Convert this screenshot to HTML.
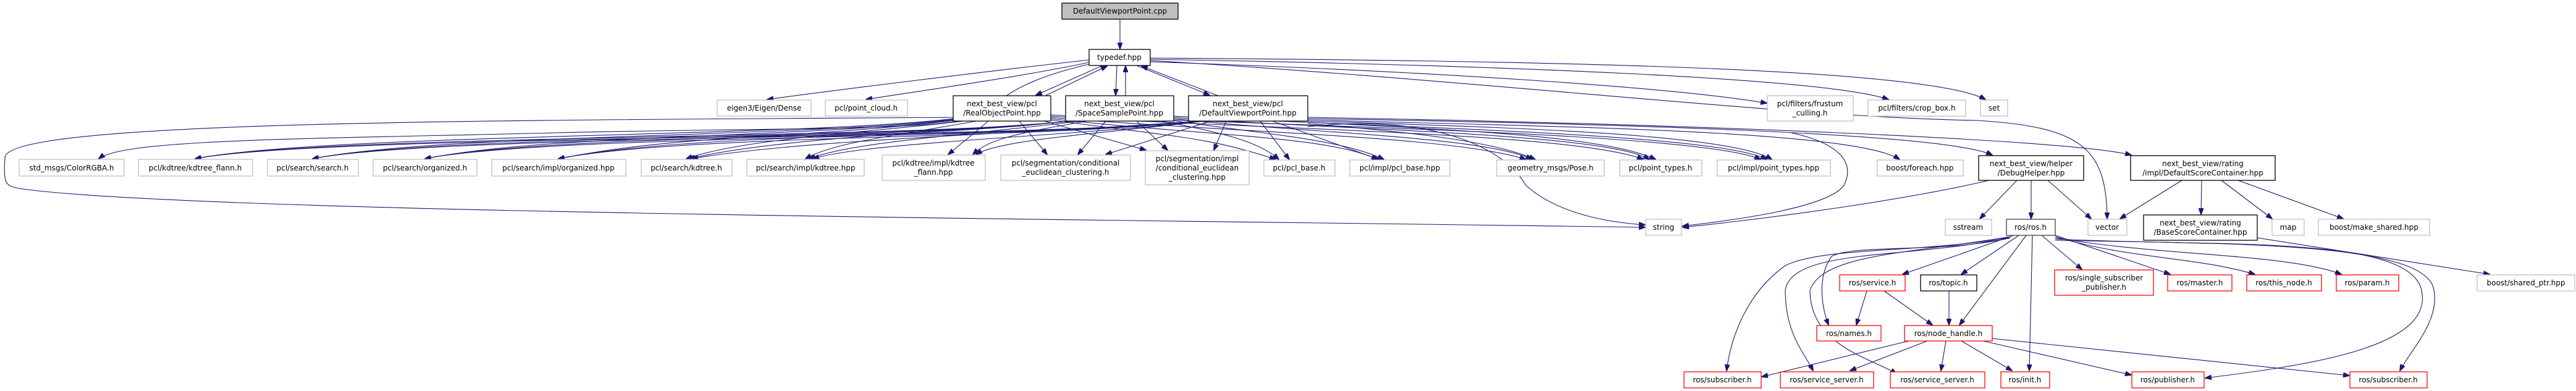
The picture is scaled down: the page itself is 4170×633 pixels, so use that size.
<!DOCTYPE html>
<html><head><meta charset="utf-8"><style>
html,body{margin:0;padding:0;background:#fff;}
svg{display:block;}
text{font-family:"DejaVu Sans","Liberation Sans",sans-serif;font-size:12px;fill:#000;text-anchor:middle;}
.g{fill:#fff;stroke:#bfbfbf;stroke-width:1.3;}
.b{fill:#fff;stroke:#000;stroke-width:1.3;}
.r{fill:#fff;stroke:#ff0000;stroke-width:1.3;}
path.e{fill:none;stroke:#191970;stroke-width:1.1;}
</style></head><body>
<svg width="4170" height="633" viewBox="0 0 4170 633" xmlns="http://www.w3.org/2000/svg">
<defs><marker id="a" markerWidth="11" markerHeight="8" refX="10" refY="4" orient="auto" markerUnits="userSpaceOnUse"><path d="M0,0 L11,4 L0,8 z" fill="#191970" stroke="#191970"/></marker></defs>
<g marker-end="url(#a)">
<path class="e" d="M1813,31 L1813,79"/>
<path class="e" d="M1763,97 C1600,115 1320,150 1242,161"/>
<path class="e" d="M1763,101 C1650,125 1470,150 1402,161"/>
<path class="e" d="M1785,106 L1677,154"/>
<path class="e" d="M1692,155 L1792,107"/>
<path class="e" d="M1808,106 L1806,154"/>
<path class="e" d="M1822,155 L1822,107"/>
<path class="e" d="M1840,106 L1958,154"/>
<path class="e" d="M1972,155 L1848,107"/>
<path class="e" d="M1862,100 C2300,115 2700,140 2860,167"/>
<path class="e" d="M1862,96 C2400,105 2950,125 3057,161"/>
<path class="e" d="M1862,94 C2500,98 3120,110 3214,161"/>
<path class="e" d="M1862,98 C2400,130 2900,190 3200,195 C3370,205 3410,240 3411,354"/>
<path class="e" d="M1763,104 C1650,130 1620,160 1600,180 C1560,215 1300,205 900,215 C500,225 200,225 160,257"/>
<path class="e" d="M1545,190 C800,195 10,195 8,255 C5,300 10,300 30,305 C300,345 1800,355 2663,368"/>
<path class="e" d="M2117,205 C2300,185 2430,230 2470,300 C2520,345 2600,360 2663,364"/>
<path class="e" d="M3220,292 C3100,320 2900,350 2724,368"/>
<path class="e" d="M2900,215 C2990,235 3000,270 2985,300 C2960,335 2820,355 2724,366"/>
<!-- Real -->
<path class="e" d="M1545,192 C1295,222 516,217 316,257"/>
<path class="e" d="M1545,193 C1295,223 706,217 506,257"/>
<path class="e" d="M1545,194 C1295,224 888,217 688,257"/>
<path class="e" d="M1545,195 C1295,225 1104,217 904,257"/>
<path class="e" d="M1560,196 C1400,215 1200,225 1111,257"/>
<path class="e" d="M1580,196 C1450,220 1350,230 1304,257"/>
<path class="e" d="M1600,196 L1535,250"/>
<path class="e" d="M1650,196 L1695,250"/>
<path class="e" d="M1690,196 L1855,243"/>
<path class="e" d="M1700,194 C1900,222 1950,220 2065,258"/>
<path class="e" d="M1700,192 C1950,220 2150,220 2230,258"/>
<path class="e" d="M1700,190 C2000,215 2350,220 2470,258"/>
<path class="e" d="M1700,188 C2050,210 2550,215 2660,258"/>
<path class="e" d="M1700,186 C2100,205 2750,215 2850,258"/>
<!-- Space -->
<path class="e" d="M1730,196 C1480,226 516,217 316,257"/>
<path class="e" d="M1730,196 C1480,226 706,217 506,257"/>
<path class="e" d="M1730,196 C1480,226 888,217 688,257"/>
<path class="e" d="M1730,196 C1480,226 1104,217 904,257"/>
<path class="e" d="M1740,196 C1500,215 1250,225 1115,257"/>
<path class="e" d="M1750,196 C1550,220 1380,230 1310,257"/>
<path class="e" d="M1760,196 C1650,215 1600,225 1575,250"/>
<path class="e" d="M1790,196 L1745,250"/>
<path class="e" d="M1840,196 L1890,243"/>
<path class="e" d="M1880,196 C1980,215 2040,230 2070,258"/>
<path class="e" d="M1890,194 C2050,218 2170,225 2240,258"/>
<path class="e" d="M1900,192 C2100,215 2400,220 2480,258"/>
<path class="e" d="M1900,190 C2150,210 2600,215 2670,258"/>
<path class="e" d="M1900,188 C2200,205 2780,215 2860,258"/>
<!-- DefVP -->
<path class="e" d="M1935,196 C1685,226 516,217 316,257"/>
<path class="e" d="M1935,196 C1685,226 706,217 506,257"/>
<path class="e" d="M1935,196 C1685,226 888,217 688,257"/>
<path class="e" d="M1935,196 C1685,226 1104,217 904,257"/>
<path class="e" d="M1940,196 C1700,215 1300,225 1120,257"/>
<path class="e" d="M1945,196 C1750,220 1400,230 1316,257"/>
<path class="e" d="M1950,196 C1800,215 1620,225 1580,250"/>
<path class="e" d="M1960,196 L1790,250"/>
<path class="e" d="M1985,196 L1965,243"/>
<path class="e" d="M2040,196 L2087,258"/>
<path class="e" d="M2060,196 L2232,258"/>
<path class="e" d="M2117,200 C2300,215 2420,230 2485,258"/>
<path class="e" d="M2117,198 C2350,210 2600,220 2680,258"/>
<path class="e" d="M2117,196 C2400,205 2800,215 2868,258"/>
<path class="e" d="M2117,194 C2500,205 3000,210 3075,258"/>
<path class="e" d="M2117,192 C2600,200 3150,215 3225,251"/>
<path class="e" d="M2117,190 C2700,200 3350,225 3450,251"/>
<!-- DebugHelper / DSC -->
<path class="e" d="M3265,292 L3205,354"/>
<path class="e" d="M3288,292 L3288,354"/>
<path class="e" d="M3315,292 L3385,354"/>
<path class="e" d="M3532,292 L3432,354"/>
<path class="e" d="M3564,292 L3563,347"/>
<path class="e" d="M3596,292 L3678,354"/>
<path class="e" d="M3623,292 L3793,354"/>
<path class="e" d="M3654,385 L4030,444"/>
<!-- ros.h -->
<path class="e" d="M3260,381 L3080,444"/>
<path class="e" d="M3268,381 L3175,444"/>
<path class="e" d="M3305,381 L3370,436"/>
<path class="e" d="M3327,381 L3513,444"/>
<path class="e" d="M3327,383 C3450,420 3550,415 3650,444"/>
<path class="e" d="M3327,385 C3500,415 3700,410 3790,444"/>
<path class="e" d="M3280,381 L3172,526"/>
<path class="e" d="M3290,381 L3285,600"/>
<path class="e" d="M3255,385 C3150,410 3000,395 2965,415 C2940,450 2950,500 2960,526"/>
<path class="e" d="M3252,385 C3100,410 2950,400 2890,430 C2820,480 2800,560 2795,600"/>
<path class="e" d="M3252,384 C3100,420 2900,400 2890,470 C2890,540 2920,570 2935,600"/>
<path class="e" d="M3254,383 C3100,410 2950,410 2930,470 C2930,560 3030,580 3070,605"/>
<path class="e" d="M3327,387 C3600,400 3900,380 3920,470 C3940,560 3750,590 3570,612"/>
<path class="e" d="M3327,389 C3600,395 3930,390 3940,470 C3950,520 3900,570 3885,600"/>
<path class="e" d="M3022,471 L3005,526"/>
<path class="e" d="M3050,471 L3128,526"/>
<path class="e" d="M3155,471 L3155,526"/>
<!-- node_handle -->
<path class="e" d="M3090,552 L2852,610"/>
<path class="e" d="M3120,552 L2995,600"/>
<path class="e" d="M3150,552 L3142,600"/>
<path class="e" d="M3175,552 L3257,600"/>
<path class="e" d="M3210,552 L3450,607"/>
<path class="e" d="M3225,548 L3803,608"/>
</g>
<!-- nodes -->
<rect x="1719" y="5" width="188" height="26" fill="#bfbfbf" stroke="#000" stroke-width="1.3"/><text x="1813" y="22">DefaultViewportPoint.cpp</text>
<rect class="b" x="1763" y="80" width="99" height="26"/><text x="1812" y="97">typedef.hpp</text>
<rect class="g" x="1161" y="162" width="152" height="26"/><text x="1237" y="179">eigen3/Eigen/Dense</text>
<rect class="g" x="1336" y="162" width="133" height="26"/><text x="1402" y="179">pcl/point_cloud.h</text>
<rect class="b" x="1543" y="155" width="158" height="41"/><text x="1622" y="172">next_best_view/pcl</text><text x="1622" y="187">/RealObjectPoint.hpp</text>
<rect class="b" x="1725" y="155" width="175" height="41"/><text x="1812" y="172">next_best_view/pcl</text><text x="1812" y="187">/SpaceSamplePoint.hpp</text>
<rect class="b" x="1924" y="155" width="193" height="41"/><text x="2020" y="172">next_best_view/pcl</text><text x="2020" y="187">/DefaultViewportPoint.hpp</text>
<rect class="g" x="2861" y="155" width="139" height="41"/><text x="2930" y="172">pcl/filters/frustum</text><text x="2930" y="187">_culling.h</text>
<rect class="g" x="3024" y="162" width="158" height="26"/><text x="3103" y="179">pcl/filters/crop_box.h</text>
<rect class="g" x="3206" y="162" width="44" height="26"/><text x="3228" y="179">set</text>

<rect class="g" x="31" y="258" width="170" height="27"/><text x="116" y="276">std_msgs/ColorRGBA.h</text>
<rect class="g" x="224" y="258" width="185" height="27"/><text x="316" y="276">pcl/kdtree/kdtree_flann.h</text>
<rect class="g" x="433" y="258" width="147" height="27"/><text x="506" y="276">pcl/search/search.h</text>
<rect class="g" x="604" y="258" width="168" height="27"/><text x="688" y="276">pcl/search/organized.h</text>
<rect class="g" x="796" y="258" width="217" height="27"/><text x="904" y="276">pcl/search/impl/organized.hpp</text>
<rect class="g" x="1038" y="258" width="147" height="27"/><text x="1111" y="276">pcl/search/kdtree.h</text>
<rect class="g" x="1209" y="258" width="190" height="27"/><text x="1304" y="276">pcl/search/impl/kdtree.hpp</text>
<rect class="g" x="1428" y="251" width="167" height="41"/><text x="1511" y="268">pcl/kdtree/impl/kdtree</text><text x="1511" y="283">_flann.hpp</text>
<rect class="g" x="1620" y="251" width="210" height="41"/><text x="1725" y="268">pcl/segmentation/conditional</text><text x="1725" y="283">_euclidean_clustering.h</text>
<rect class="g" x="1854" y="244" width="168" height="55"/><text x="1938" y="261">pcl/segmentation/impl</text><text x="1938" y="276">/conditional_euclidean</text><text x="1938" y="291">_clustering.hpp</text>
<rect class="g" x="2046" y="259" width="115" height="26"/><text x="2103" y="276">pcl/pcl_base.h</text>
<rect class="g" x="2185" y="259" width="162" height="26"/><text x="2266" y="276">pcl/impl/pcl_base.hpp</text>
<rect class="g" x="2423" y="259" width="174" height="26"/><text x="2510" y="276">geometry_msgs/Pose.h</text>
<rect class="g" x="2622" y="259" width="133" height="26"/><text x="2688" y="276">pcl/point_types.h</text>
<rect class="g" x="2780" y="259" width="183" height="26"/><text x="2871" y="276">pcl/impl/point_types.hpp</text>
<rect class="g" x="3039" y="259" width="139" height="26"/><text x="3108" y="276">boost/foreach.hpp</text>
<rect class="b" x="3203" y="252" width="170" height="40"/><text x="3288" y="269">next_best_view/helper</text><text x="3288" y="284">/DebugHelper.hpp</text>
<rect class="b" x="3449" y="252" width="234" height="40"/><text x="3566" y="269">next_best_view/rating</text><text x="3566" y="284">/impl/DefaultScoreContainer.hpp</text>

<rect class="g" x="2664" y="355" width="58" height="26"/><text x="2693" y="372">string</text>
<rect class="g" x="3149" y="355" width="75" height="26"/><text x="3186" y="372">sstream</text>
<rect fill="#fff" stroke="#404040" stroke-width="1.3" x="3248" y="355" width="79" height="26"/><text x="3287" y="372">ros/ros.h</text>
<rect class="g" x="3380" y="355" width="63" height="26"/><text x="3411" y="372">vector</text>
<rect class="b" x="3470" y="348" width="184" height="41"/><text x="3562" y="365">next_best_view/rating</text><text x="3562" y="380">/BaseScoreContainer.hpp</text>
<rect class="g" x="3678" y="355" width="52" height="26"/><text x="3704" y="372">map</text>
<rect class="g" x="3753" y="355" width="180" height="26"/><text x="3843" y="372">boost/make_shared.hpp</text>

<rect class="r" x="2978" y="445" width="106" height="26"/><text x="3031" y="462">ros/service.h</text>
<rect class="b" x="3109" y="445" width="91" height="26"/><text x="3154" y="462">ros/topic.h</text>
<rect class="r" x="3326" y="437" width="160" height="41"/><text x="3406" y="454">ros/single_subscriber</text><text x="3406" y="469">_publisher.h</text>
<rect class="r" x="3509" y="445" width="104" height="26"/><text x="3561" y="462">ros/master.h</text>
<rect class="r" x="3637" y="445" width="121" height="26"/><text x="3697" y="462">ros/this_node.h</text>
<rect class="r" x="3782" y="445" width="101" height="26"/><text x="3832" y="462">ros/param.h</text>
<rect class="g" x="4010" y="445" width="158" height="26"/><text x="4089" y="462">boost/shared_ptr.hpp</text>

<rect class="r" x="2941" y="527" width="104" height="25"/><text x="2993" y="544">ros/names.h</text>
<rect class="r" x="3083" y="527" width="142" height="25"/><text x="3154" y="544">ros/node_handle.h</text>

<rect class="r" x="2726" y="602" width="125" height="26"/><text x="2788" y="619">ros/subscriber.h</text>
<rect class="r" x="2882" y="602" width="151" height="26"/><text x="2957" y="619">ros/service_server.h</text>
<rect class="r" x="3060" y="602" width="153" height="26"/><text x="3136" y="619">ros/service_server.h</text>
<rect class="r" x="3239" y="602" width="79" height="26"/><text x="3278" y="619">ros/init.h</text>
<rect class="r" x="3451" y="602" width="117" height="26"/><text x="3509" y="619">ros/publisher.h</text>
<rect class="r" x="3804" y="602" width="125" height="26"/><text x="3866" y="619">ros/subscriber.h</text>
</svg>
</body></html>
